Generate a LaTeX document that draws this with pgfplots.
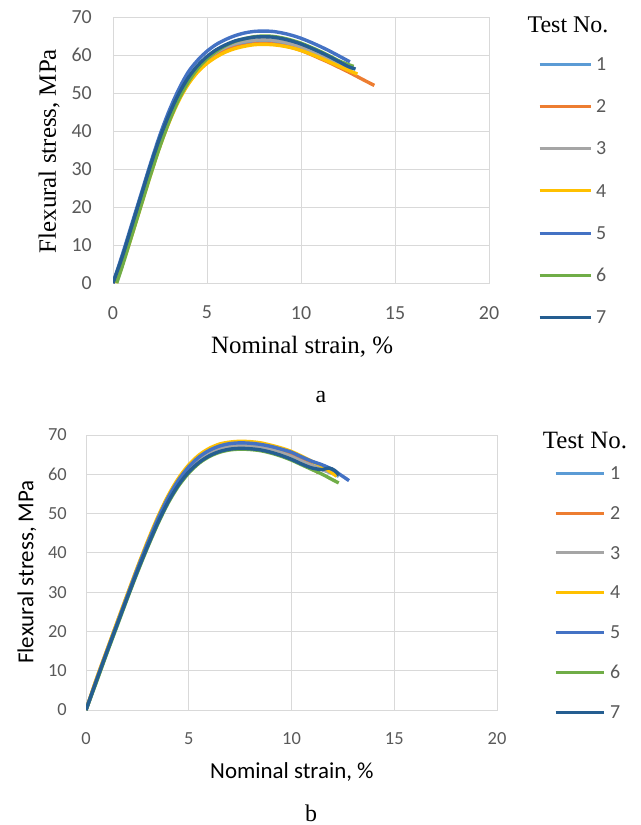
\documentclass[border=0pt]{standalone}
\usepackage{fontspec}
\setmainfont{Liberation Serif}
\newfontfamily\carlito{Carlito}
\usepackage{pgfplots}
\usepackage{pgfplotstable}
\pgfplotsset{compat=1.18}

\definecolor{c1}{HTML}{5B9BD5}
\definecolor{c2}{HTML}{ED7D31}
\definecolor{c3}{HTML}{A5A5A5}
\definecolor{c4}{HTML}{FFC000}
\definecolor{c5}{HTML}{4472C4}
\definecolor{c6}{HTML}{70AD47}
\definecolor{c7}{HTML}{255E91}
\definecolor{gridgray}{HTML}{D9D9D9}
\definecolor{tickgray}{HTML}{595959}

% panel a
\pgfplotstableread{
x y
0 0
0.5 6.5
1 14.3
1.5 22.2
2 30
2.5 37.2
3 43.4
3.5 48.7
4 52.9
4.5 56.1
5 58.5
5.5 60.3
6 61.6
6.5 62.5
7 63.1
7.5 63.4
8 63.5
8.5 63.4
9 63
9.5 62.4
10 61.6
10.5 60.6
11 59.5
11.5 58.4
12 57.2
12.7 56
}\aone
\pgfplotstableread{
x y
0 0
0.5 6
1 14
1.5 22
2 30
2.5 37.3
3 43.5
3.5 48.8
4 53
4.5 56
5 58.3
5.5 60
6 61.2
6.5 62
7 62.5
7.5 62.9
8 63
8.5 62.9
9 62.5
9.5 62
10 61.2
10.5 60.2
11 59.1
11.5 58
12 56.8
12.5 55.6
13 54.3
13.5 53
13.9 52
}\atwo
\pgfplotstableread{
x y
0 0
0.5 6.5
1 14.3
1.5 22.3
2 30.2
2.5 37.5
3 43.8
3.5 49.2
4 53.4
4.5 56.6
5 59
5.5 60.8
6 62.1
6.5 63
7 63.6
7.5 63.9
8 64
8.5 63.9
9 63.5
9.5 62.9
10 62.1
10.5 61.1
11 60
11.5 58.9
12 57.7
12.5 56.9
12.8 56.5
}\athree
\pgfplotstableread{
x y
0.15 0
0.5 4.8
1 12.5
1.5 20.5
2 28.5
2.5 36
3 42.5
3.5 48
4 52.3
4.5 55.5
5 57.8
5.5 59.5
6 60.8
6.5 61.7
7 62.3
7.5 62.7
8 62.8
8.5 62.7
9 62.4
9.5 61.9
10 61.2
10.5 60.3
11 59.3
11.5 58.2
12 57.1
12.5 56
13 55
}\afour
\pgfplotstableread{
x y
0 0
0.5 7.5
1 15.5
1.5 23.5
2 31.5
2.5 39
3 45.5
3.5 51
4 55.5
4.5 58.6
5 61
5.5 62.8
6 64.1
6.5 65.1
7 65.8
7.5 66.2
8 66.3
8.5 66.2
9 65.8
9.5 65.2
10 64.4
10.5 63.4
11 62.3
11.5 61.1
12 59.8
12.6 58.2
}\afive
\pgfplotstableread{
x y
0.2 0
0.5 4.5
1 12.5
1.5 20.5
2 28.5
2.5 36
3 42.7
3.5 48.4
4 52.9
4.5 56.4
5 59
5.5 61
6 62.5
6.5 63.6
7 64.3
7.5 64.8
8 65
8.5 64.9
9 64.5
9.5 63.9
10 63.1
10.5 62.1
11 61
11.5 59.8
12 58.5
12.5 57.5
12.8 57
}\asix
\pgfplotstableread{
x y
0 0
0.5 7
1 15
1.5 23
2 31
2.5 38.3
3 44.5
3.5 49.8
4 54
4.5 57.2
5 59.6
5.5 61.4
6 62.7
6.5 63.7
7 64.3
7.5 64.7
8 64.8
8.5 64.7
9 64.3
9.5 63.7
10 62.9
10.5 61.9
11 60.8
11.5 59.6
12 58.3
12.5 57
12.9 56.3
}\aseven

% panel b
\pgfplotstableread{
x y
0 0
0.5 7.4
1 14.6
1.5 21.7
2 28.7
2.5 35.6
3 42.1
3.5 48.2
4 53.5
4.5 57.9
5 61.3
5.5 63.8
6 65.5
6.5 66.6
7 67.2
7.5 67.5
8 67.4
8.5 67.1
9 66.5
9.5 65.7
10 64.7
10.5 63.5
11 62.3
11.5 61.2
12 60.2
12.3 59.5
}\bone
\pgfplotstableread{
x y
0 0
0.5 7.7
1 14.9
1.5 22
2 29.1
2.5 36.1
3 42.7
3.5 48.9
4 54.3
4.5 58.7
5 62.1
5.5 64.6
6 66.3
6.5 67.4
7 67.9
7.5 68.1
8 68
8.5 67.7
9 67.1
9.5 66.3
10 65.3
10.5 64
11 62.3
11.3 60.3
}\btwo
\pgfplotstableread{
x y
0 0
0.5 7.3
1 14.5
1.5 21.6
2 28.6
2.5 35.5
3 42
3.5 48
4 53.3
4.5 57.7
5 61.1
5.5 63.6
6 65.3
6.5 66.4
7 67
7.5 67.3
8 67.2
8.5 66.9
9 66.3
9.5 65.5
10 64.5
10.5 63.3
11 62.2
11.5 61.2
12 60.3
12.3 59.8
}\bthree
\pgfplotstableread{
x y
0 0
0.5 7.8
1 15
1.5 22.2
2 29.3
2.5 36.3
3 43
3.5 49.2
4 54.6
4.5 59
5 62.4
5.5 64.9
6 66.6
6.5 67.7
7 68.2
7.5 68.4
8 68.3
8.5 68
9 67.4
9.5 66.7
10 65.8
10.5 64.6
11 63.3
11.5 62
12.2 59.5
}\bfour
\pgfplotstableread{
x y
0 0
0.5 7.5
1 14.7
1.5 21.8
2 28.9
2.5 35.9
3 42.5
3.5 48.7
4 54.1
4.5 58.5
5 61.9
5.5 64.4
6 66.1
6.5 67.2
7 67.8
7.5 68
8 67.9
8.5 67.6
9 67.1
9.5 66.4
10 65.6
10.5 64.4
11 63.3
11.5 62.4
12 61.2
12.4 59.8
12.8 58.4
}\bfive
\pgfplotstableread{
x y
0 0
0.5 7
1 14.2
1.5 21.2
2 28.2
2.5 35
3 41.4
3.5 47.4
4 52.7
4.5 57
5 60.3
5.5 62.8
6 64.5
6.5 65.6
7 66.2
7.5 66.4
8 66.3
8.5 66
9 65.4
9.5 64.6
10 63.6
10.5 62.4
11 61.2
11.5 60
12 58.6
12.3 57.8
}\bsix
\pgfplotstableread{
x y
0 0
0.5 7.3
1 14.5
1.5 21.5
2 28.5
2.5 35.3
3 41.7
3.5 47.7
4 53
4.5 57.3
5 60.6
5.5 63
6 64.7
6.5 65.8
7 66.4
7.5 66.6
8 66.5
8.5 66.2
9 65.6
9.5 64.8
10 63.8
10.5 62.6
11 61.6
11.5 61.2
11.8 61.6
12.1 61
12.3 59.8
}\bseven

\pgfplotsset{
  flexstyle/.style={
    scale only axis,
    xmin=0, xmax=20, ymin=0, ymax=70,
    xtick={0,5,10,15,20}, ytick={0,10,...,70},
    major tick length=0pt,
    grid=major,
    grid style={draw=gridgray, line width=1bp},
    axis line style={draw=gridgray, line width=1bp},
    /pgf/number format/assume math mode=true,
    legend cell align=left,
    every axis plot/.append style={line width=3.4bp, smooth, no markers},
  },
}

\begin{document}
\begin{tikzpicture}
\useasboundingbox (0bp,0bp) rectangle (641bp,-825bp);

% ---- a ----
\begin{axis}[flexstyle,
  at={(113bp,-17bp)}, anchor=north west,
  width=376bp, height=266bp,
  xticklabel style={font=\carlito\fontsize{20}{20}\selectfont, text=tickgray, inner sep=0pt, yshift=-23bp},
  yticklabel style={font=\carlito\fontsize{20}{20}\selectfont, text=tickgray, inner sep=0pt, xshift=-21bp},
  xlabel={Nominal strain, \%},
  ylabel={Flexural stress, MPa},
  xlabel style={font=\fontsize{25}{25}\selectfont, at={(axis description cs:0.503,-0.24)}, anchor=center},
  ylabel style={font=\fontsize{25}{25}\selectfont, at={(axis description cs:-0.170,0.496)}, anchor=center, rotate=0},
  legend image code/.code={\draw[#1, line width=3bp] (0bp,0bp) -- (51bp,0bp);},
  legend style={at={(axis description cs:1.130,0.847)}, anchor=north west,
    draw=none, fill=none, inner sep=0pt, row sep=29.6bp, column sep=4bp,
    font=\carlito\fontsize{20}{20}\selectfont, text=tickgray,
    nodes={inner sep=0pt, text height=12.6bp, text depth=0bp}},
]
\addplot[c1] table {\aone};   \addlegendentry{1}
\addplot[c2] table {\atwo};   \addlegendentry{2}
\addplot[c3] table {\athree}; \addlegendentry{3}
\addplot[c4] table {\afour};  \addlegendentry{4}
\addplot[c5] table {\afive};  \addlegendentry{5}
\addplot[c6] table {\asix};   \addlegendentry{6}
\addplot[c7] table {\aseven}; \addlegendentry{7}
\end{axis}
\node[font=\fontsize{24}{24}\selectfont, inner sep=0pt] at (568bp,-25bp) {Test No.};
\node[font=\fontsize{24}{24}\selectfont, inner sep=0pt, anchor=base] at (321bp,-402bp) {a};

% ---- b ----
\begin{axis}[flexstyle,
  at={(86bp,-435bp)}, anchor=north west,
  width=411bp, height=275bp,
  xticklabel style={font=\carlito\fontsize{18.5}{18.5}\selectfont, text=tickgray, inner sep=0pt, yshift=-22.4bp},
  yticklabel style={font=\carlito\fontsize{18.5}{18.5}\selectfont, text=tickgray, inner sep=0pt, xshift=-19bp},
  xlabel={Nominal strain, \%},
  ylabel={Flexural stress, MPa},
  xlabel style={font=\carlito\fontsize{23}{23}\selectfont, at={(axis description cs:0.501,-0.225)}, anchor=center},
  ylabel style={font=\carlito\fontsize{23}{23}\selectfont, at={(axis description cs:-0.1436,0.502)}, anchor=center, rotate=0},
  legend image code/.code={\draw[#1, line width=3bp] (0bp,0bp) -- (48bp,0bp);},
  legend style={at={(axis description cs:1.1387,0.8847)}, anchor=north west,
    draw=none, fill=none, inner sep=0pt, row sep=27.2bp, column sep=5bp,
    font=\carlito\fontsize{20}{20}\selectfont, text=tickgray,
    nodes={inner sep=0pt, text height=12.6bp, text depth=0bp}},
]
\addplot[c1] table {\bone};   \addlegendentry{1}
\addplot[c2] table {\btwo};   \addlegendentry{2}
\addplot[c3] table {\bthree}; \addlegendentry{3}
\addplot[c4] table {\bfour};  \addlegendentry{4}
\addplot[c5] table {\bfive};  \addlegendentry{5}
\addplot[c6] table {\bsix};   \addlegendentry{6}
\addplot[c7] table {\bseven}; \addlegendentry{7}
\end{axis}
\node[font=\fontsize{25}{25}\selectfont, inner sep=0pt] at (585bp,-441bp) {Test No.};
\node[font=\fontsize{24}{24}\selectfont, inner sep=0pt, anchor=base] at (311bp,-821bp) {b};
\end{tikzpicture}
\end{document}
